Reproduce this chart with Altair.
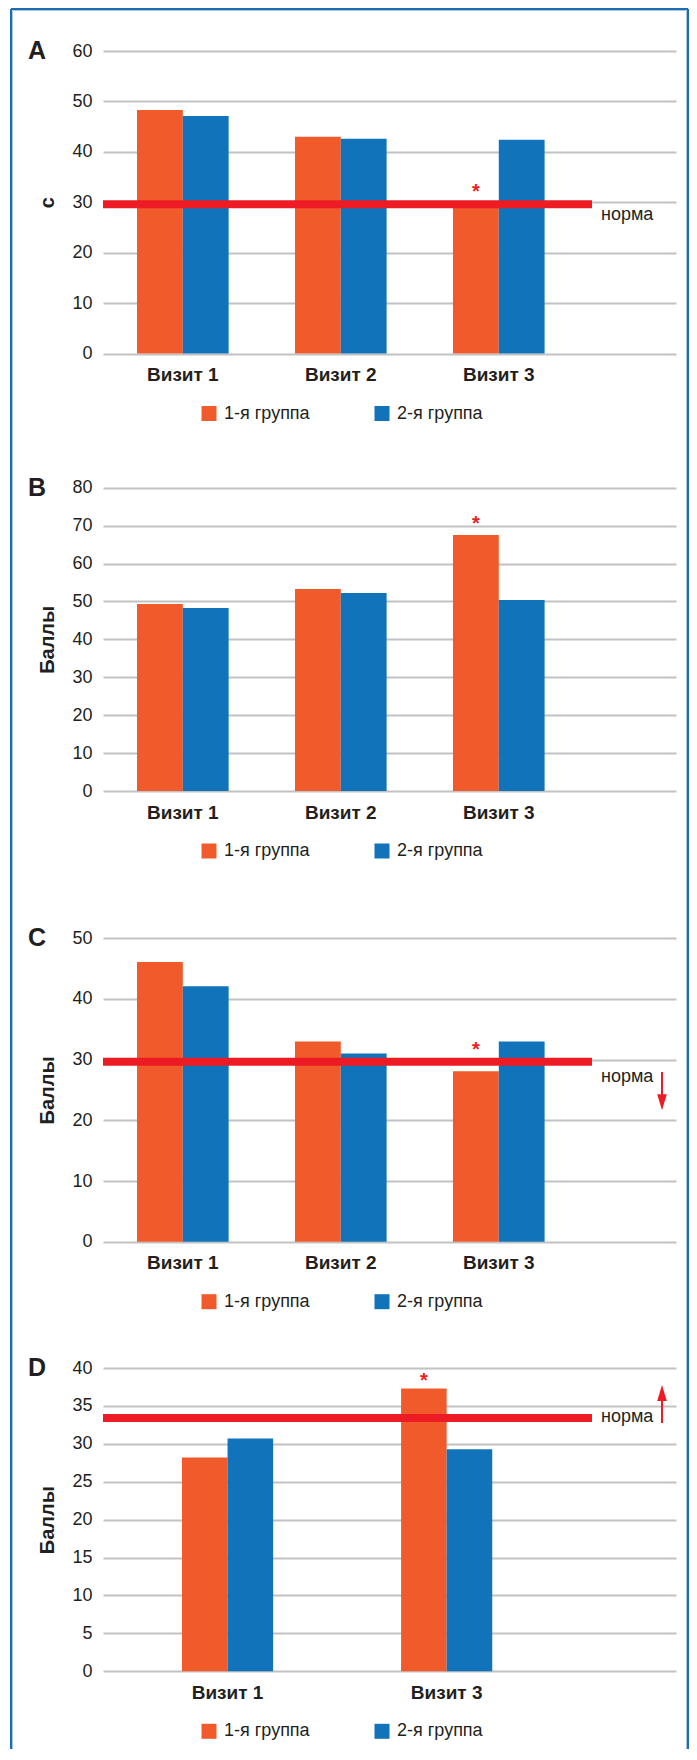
import altair as alt
import pandas as pd

FONT = "Liberation Sans, Arial, sans-serif"
ORANGE = "#f15a2b"
BLUE = "#1173ba"
RED = "#ed1c24"
GRID = "#c2c2c2"
TEXT = "#231f20"
FRAME = "#1c6cb4"
FRAME_LIGHT = "#a8c8e8"

GROUPS = ["1-я группа", "2-я группа"]
VISITS_ABC = ["Визит 1", "Визит 2", "Визит 3"]
VISITS_D = ["Визит 1", "Визит 3"]

A_G1 = [48.3, 43.0, 29.8]
A_G2 = [47.1, 42.6, 42.4]
B_G1 = [49.3, 53.3, 67.5]
B_G2 = [48.3, 52.2, 50.4]
C_G1 = [46.1, 33.0, 28.1]
C_G2 = [42.1, 31.0, 33.0]
D_G1 = [28.2, 37.3]
D_G2 = [30.7, 29.3]

A_TICKS = [0, 10, 20, 30, 40, 50, 60]
B_TICKS = [0, 10, 20, 30, 40, 50, 60, 70, 80]
C_TICKS = [0, 10, 20, 30, 40, 50]
D_TICKS = [0, 5, 10, 15, 20, 25, 30, 35, 40]

NORM_A = 29.6
NORM_C = 29.65
NORM_D = 33.4

STAR_A = 33.1
STAR_B = 71.7
STAR_C = 32.4
STAR_D = 39.0

# arrow: tail, shaft end, head centre (data units)
ARROW_C = [27.97, 24.0, 23.0]
ARROW_D = [32.76, 36.3, 36.7]

W = 573


def one_row():
    return pd.DataFrame({"k": [0]})


def panel(letter, ytitle, visits, g1, g2, ticks, ymax, height, pin, pout, align,
          star_y, norm=None, norm_dy=0, arrow=None, arrow_up=False, frame=False):
    rows = [{"visit": v, "group": GROUPS[0], "value": a} for v, a in zip(visits, g1)]
    rows += [{"visit": v, "group": GROUPS[1], "value": b} for v, b in zip(visits, g2)]
    df = pd.DataFrame(rows)

    top_val = ticks[-1]
    ypix_top = height * (1 - top_val / ymax)
    title_y = (ypix_top + height) / 2

    xscale = alt.Scale(domain=visits, paddingInner=pin, paddingOuter=pout, align=align)
    yscale = alt.Scale(domain=[0, ymax], nice=False, zero=True)

    bars = alt.Chart(df).mark_bar().encode(
        x=alt.X("visit:N", scale=xscale, sort=visits,
                axis=alt.Axis(title=None, labelAngle=0, domain=False, ticks=False, grid=False,
                              labelFont=FONT, labelFontSize=19, labelFontWeight="bold",
                              labelColor=TEXT, labelPadding=12)),
        xOffset=alt.XOffset("group:N", sort=GROUPS),
        y=alt.Y("value:Q", scale=yscale,
                axis=alt.Axis(values=ticks, tickCount=len(ticks), labelOverlap=False,
                              title=ytitle, domain=False, ticks=False,
                              grid=True, gridColor=GRID, gridWidth=2,
                              labelFont=FONT, labelFontSize=18, labelColor=TEXT,
                              labelPadding=11,
                              titleFont=FONT, titleFontSize=20, titleFontWeight="bold",
                              titleColor=TEXT, titleAngle=270, titleX=-56, titleY=title_y,
                              titleBaseline="middle", titleAlign="center")),
        color=alt.Color("group:N", scale=alt.Scale(domain=GROUPS, range=[ORANGE, BLUE]),
                        legend=alt.Legend(title=None, orient="none", legendX=97,
                                          legendY=height + 51, direction="horizontal",
                                          columns=2, symbolType="square", symbolSize=225,
                                          symbolStrokeWidth=0, symbolOpacity=1,
                                          labelFont=FONT, labelFontSize=18, labelColor=TEXT,
                                          labelOffset=6, columnPadding=63, padding=0)),
    )

    layers = [bars]

    if norm is not None:
        layers.append(alt.Chart(one_row()).mark_rule(color=RED, strokeWidth=8).encode(
            x=alt.value(0), x2=alt.value(489), y=alt.datum(norm)))
        layers.append(alt.Chart(one_row()).mark_text(
            font=FONT, fontSize=18, color=TEXT, align="left", baseline="alphabetic",
            dy=norm_dy).encode(x=alt.value(498), y=alt.datum(norm), text=alt.value("норма")))

    star_df = pd.DataFrame({"visit": [visits[-1]], "group": [GROUPS[0]], "value": [star_y]})
    layers.append(alt.Chart(star_df).mark_text(
        font=FONT, fontSize=20, fontWeight="bold", color=RED, baseline="middle", dy=5
    ).encode(x=alt.X("visit:N", sort=visits), xOffset=alt.XOffset("group:N", sort=GROUPS),
             y="value:Q", text=alt.value("*")))

    layers.append(alt.Chart(one_row()).mark_text(
        font=FONT, fontSize=25, fontWeight="bold", color=TEXT, align="left",
        baseline="middle", dy=0).encode(x=alt.value(-75), y=alt.datum(top_val),
                                         text=alt.value(letter)))

    if arrow is not None:
        layers.append(alt.Chart(one_row()).mark_rule(color=RED, strokeWidth=2).encode(
            x=alt.value(559), y=alt.datum(arrow[0]), y2=alt.datum(arrow[1])))
        shape = "M-0.6,1L0.6,1L0,-1Z" if arrow_up else "M-0.6,-1L0.6,-1L0,1Z"
        layers.append(alt.Chart(one_row()).mark_point(
            shape=shape, size=256, filled=True, color=RED, opacity=1, strokeWidth=0
        ).encode(x=alt.value(559), y=alt.datum(arrow[2])))

    if frame:
        fb = 1698
        for (x1, x2, y1, y2, c, sw) in [
            (-92, 585, -42, None, FRAME, 2), (-92, None, -42, fb, FRAME, 2),
            (585, None, -42, fb, FRAME, 2),
            (-90.5, 583.5, -40.5, None, FRAME_LIGHT, 1), (-90.5, None, -40.5, fb, FRAME_LIGHT, 1),
            (583.5, None, -40.5, fb, FRAME_LIGHT, 1)]:
            enc = {"x": alt.value(x1), "y": alt.value(y1)}
            if x2 is not None:
                enc["x2"] = alt.value(x2)
            if y2 is not None:
                enc["y2"] = alt.value(y2)
            layers.insert(0, alt.Chart(one_row()).mark_rule(color=c, strokeWidth=sw).encode(**enc))

    return alt.layer(*layers).properties(width=W, height=height)


pA = panel("A", "с", VISITS_ABC, A_G1, A_G2, A_TICKS, 60, 302.5, 0.42, 0.5235, 0.2056,
           STAR_A, norm=NORM_A, norm_dy=16, frame=True)
pB = panel("B", "Баллы", VISITS_ABC, B_G1, B_G2, B_TICKS, 82.03, 311, 0.42, 0.5235, 0.2056,
           STAR_B)
pC = panel("C", "Баллы", VISITS_ABC, C_G1, C_G2, C_TICKS, 53.51, 324.7, 0.42, 0.5235, 0.2056,
           STAR_C, norm=NORM_C, norm_dy=20, arrow=ARROW_C, arrow_up=False)
pD = panel("D", "Баллы", VISITS_D, D_G1, D_G2, D_TICKS, 40, 303.3, 0.584, 0.5996, 0.3006,
           STAR_D, norm=NORM_D, norm_dy=4, arrow=ARROW_D, arrow_up=True)

chart = alt.vconcat(pA, pB, pC, pD, spacing=126, bounds="flush").resolve_scale(
    color="independent", x="independent", y="independent", xOffset="independent"
).resolve_legend(color="independent").properties(
    padding={"left": 2, "top": 0, "right": 0, "bottom": 0}
).configure_view(strokeWidth=0)

chart.save("out.html", embed_options={"renderer": "svg", "actions": False})
